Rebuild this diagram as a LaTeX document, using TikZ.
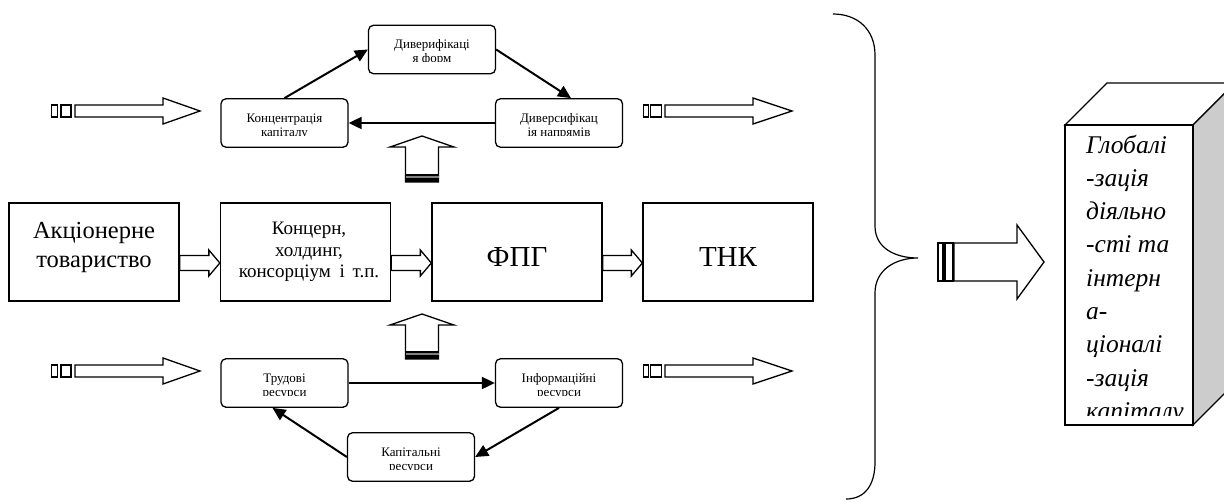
\documentclass[tikz,border=0pt]{standalone}
\usepackage{fontspec}
\setmainfont{Liberation Serif}
\usetikzlibrary{arrows.meta,calc}
\tikzset{
  rbox/.style={draw, line width=1.3pt, rounded corners=5pt, minimum width=127pt, minimum height=48.5pt, inner sep=0pt},
  sbox/.style={draw, line width=1.3pt, minimum width=170pt, minimum height=98pt, inner sep=0pt},
  conn/.style={line width=2pt, -{Triangle[length=13pt,width=12pt]}},
  blk/.style={draw, line width=1.3pt, fill=white, line join=miter},
  small/.style={font=\fontsize{13}{14}\selectfont, inner sep=0pt, anchor=base},
}
\newcommand\hblk[5]{\draw[blk] let \p1=(#1), \p2=(#2) in
  (\x1,\y1+#3pt) -- (\x2-#5pt,\y1+#3pt) -- (\x2-#5pt,\y1+#4pt) -- (\x2,\y1)
  -- (\x2-#5pt,\y1-#4pt) -- (\x2-#5pt,\y1-#3pt) -- (\x1,\y1-#3pt) -- cycle;}
\newcommand\vblk[5]{\draw[blk] let \p1=(#1), \p2=(#2) in
  (\x1-#3pt,\y1) -- (\x1-#3pt,\y2-#5pt) -- (\x1-#4pt,\y2-#5pt) -- (\x2,\y2)
  -- (\x1+#4pt,\y2-#5pt) -- (\x1+#3pt,\y2-#5pt) -- (\x1+#3pt,\y1) -- cycle;}
\newcommand\rlabel[4]{\begin{scope}
  \clip (#1.north west) rectangle ($(#1.north east)+(0,37)$);
  \node[small] (#2) at ($(#1.north)+(0,24)$) {\parbox[t]{124pt}{\centering #3\\#4}};
  \end{scope}}
\begin{document}
\begin{tikzpicture}[x=1pt,y=-1pt]
\clip (0,0) rectangle (1224,501);
\fill[white] (0,0) rectangle (1224,501);

% top cluster
\node[rbox] (konc) at (284.5,123) {};
\node[rbox] (dyvf) at (432,49.5) {};
\node[rbox] (dyvn) at (559,123) {};
\rlabel{konc}{konct}{Концентрація}{капіталу}
\rlabel{dyvf}{dyvft}{Диверифікаці}{я форм}
\rlabel{dyvn}{dyvnt}{Диверсифікац}{ія напрямів}
\draw[conn] (konc.north) -- (dyvf.west);
\draw[conn] (dyvf.east) -- ([xshift=12pt]dyvn.north);
\draw[conn] (dyvn.west) -- (konc.east);

% bottom cluster
\node[rbox] (trud) at (284.5,383) {};
\node[rbox] (info) at (559,383) {};
\node[rbox] (kap) at (411,457) {};
\rlabel{trud}{trudt}{Трудові}{ресурси}
\rlabel{info}{infot}{Інформаційні}{ресурси}
\rlabel{kap}{kapt}{Капітальні}{ресурси}
\draw[conn] (trud.east) -- (info.west);
\draw[conn] (info.south) -- (kap.east);
\draw[conn] (kap.west) -- ([xshift=-12pt]trud.south);

% middle row
\node[sbox] (ak) at (94,252) {};
\node[sbox] (kon) at (305.5,252) {};
\node[sbox] (fpg) at (517,252) {};
\node[sbox] (tnk) at (728,252) {};
\node[font=\fontsize{24.5}{29}\selectfont, anchor=base, inner sep=0pt] (akt) at (94,238)
  {\parbox[t]{165pt}{\centering Акціонерне\\товариство}};
\node[font=\fontsize{19}{21.5}\selectfont, align=center, inner sep=0pt] (kont) at (309,252)
  {Концерн,\\холдинг,\\консорціум\hspace{4pt} і\hspace{3pt} т.п.};
\node[font=\fontsize{29}{34}\selectfont, anchor=base, inner sep=0pt] (fpgt) at (517,266) {ФПГ};
\node[font=\fontsize{29}{34}\selectfont, anchor=base, inner sep=0pt] (tnkt) at (728,266) {ТНК};
\coordinate (m1s) at ($(ak.east)+(0,11)$);  \coordinate (m1e) at ($(kon.west)+(0,11)$);
\coordinate (m2s) at ($(kon.east)+(0,11)$); \coordinate (m2e) at ($(fpg.west)+(0,11)$);
\coordinate (m3s) at ($(fpg.east)+(0,11)$); \coordinate (m3e) at ($(tnk.west)+(0,11)$);
\hblk{m1s}{m1e}{7.5}{13}{11}
\hblk{m2s}{m2e}{7.5}{13}{11}
\hblk{m3s}{m3e}{7.5}{13}{11}

% striped input/output arrows
\coordinate (l1s) at (75,111);  \coordinate (l1e) at (200,111);
\coordinate (r1s) at (665,111); \coordinate (r1e) at (792,111);
\coordinate (l2s) at (75,371);  \coordinate (l2e) at (200,371);
\coordinate (r2s) at (665,371); \coordinate (r2e) at (792,371);
\foreach \yy in {111,371}{
  \draw[blk] (51.7,\yy-6) rectangle (57.3,\yy+6);
  \draw[blk] (61,\yy-6) rectangle (71,\yy+6);
  \draw[blk] (643.3,\yy-6) rectangle (648.3,\yy+6);
  \draw[blk] (650.7,\yy-6) rectangle (661.7,\yy+6);
}
\hblk{l1s}{l1e}{6}{13}{37}
\hblk{r1s}{r1e}{6}{13}{39}
\hblk{l2s}{l2e}{6}{13}{37}
\hblk{r2s}{r2e}{6}{13}{39}

% upward arrows
\coordinate (u1b) at (422,182); \coordinate (u1t) at (422,136);
\coordinate (u2b) at (422,359); \coordinate (u2t) at (422,314);
\vblk{u1b}{u1t}{16.5}{32}{11}
\vblk{u2b}{u2t}{16.5}{32}{11}
\foreach \bb in {182,359}{
  \fill[black] (405.5,\bb-8.5) rectangle (438.5,\bb-6);
  \fill[gray] (405.5,\bb-6) rectangle (438.5,\bb-4);
  \fill[black] (405.5,\bb-4) rectangle (438.5,\bb);
}

% brace
\draw[line width=1.2pt] (833,14) .. controls (858,14) and (875,30) .. (875,55)
  -- (875,226) .. controls (875,248) and (895,258) .. (918,258)
  .. controls (895,258) and (875,270) .. (875,293)
  -- (875,462) .. controls (875,485) and (865,499) .. (846,499);

% big striped arrow
\coordinate (bs) at (954,262); \coordinate (be) at (1044,262);
\draw[blk] (938,243) rectangle (943,281);
\draw[blk] (945,243) rectangle (953,281);
\hblk{bs}{be}{19}{37}{27}

% cube
\draw[line width=1.3pt, fill=white] (1065,125) -- (1107,83) -- (1235,83) -- (1193,125) -- cycle;
\draw[line width=1.3pt, fill=gray!40] (1193,125) -- (1235,83) -- (1235,383) -- (1193,425) -- cycle;
\node[draw, line width=1.3pt, fill=white, minimum width=128pt, minimum height=300pt, inner sep=0pt] (cube) at (1129,275) {};
\begin{scope}
  \clip (1066,126) rectangle (1192,415);
  \node[font=\fontsize{25.5}{33.3}\selectfont\itshape, anchor=base west, inner sep=0pt] (cubet) at (1086,153)
    {\parbox[t]{200pt}{\raggedright Глобалі\\-зація\\діяльно\\-сті та\\інтерн\\а-\\ціоналі\\-зація\\капіталу}};
\end{scope}
\end{tikzpicture}
\end{document}
